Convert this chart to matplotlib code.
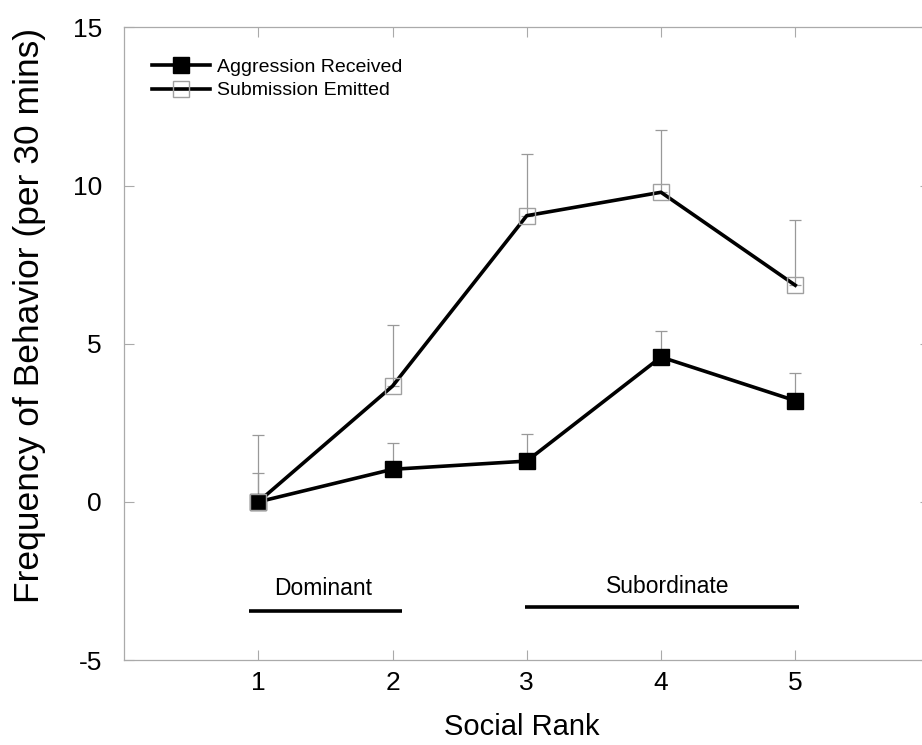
import matplotlib
matplotlib.use("Agg")
import matplotlib.pyplot as plt

plt.rcParams['font.family'] = ['Liberation Sans', 'DejaVu Sans']
plt.rcParams['axes.unicode_minus'] = False

rank = [1, 2, 3, 4, 5]
aggression = [0.0, 1.03, 1.29, 4.58, 3.2]
aggression_err = [0.9, 0.84, 0.85, 0.83, 0.86]
submission = [0.0, 3.66, 9.05, 9.79, 6.85]
submission_err = [2.1, 1.92, 1.95, 1.98, 2.05]

groups = ['Dominant', 'Subordinate']
group_start = [0.93, 2.99]
group_end = [2.07, 5.03]
group_line_y = [-3.46, -3.33]
group_text_y = [-2.75, -2.68]
group_text_x = [1.48, 4.05]

fig = plt.figure(figsize=(9.22, 7.45), dpi=100)
ax = fig.add_axes([124 / 922, 85 / 745, 805.5 / 922, 632.5 / 745])

grey = '#999999'
zeros = [0] * len(rank)

# error bars (upper only)
ax.errorbar(rank, aggression, yerr=[zeros, aggression_err], fmt='none',
            ecolor=grey, elinewidth=0.9, capsize=4, capthick=0.9, zorder=1)
ax.errorbar(rank, submission, yerr=[zeros, submission_err], fmt='none',
            ecolor=grey, elinewidth=0.9, capsize=4, capthick=0.9, zorder=1)

ax.plot(rank, aggression, color='black', lw=2.6, marker='s', ms=11.5,
        mfc='black', mec='black', label='Aggression Received', zorder=3)
ax.plot(rank, submission, color='black', lw=2.6, marker='s', ms=11.5,
        mfc='none', mec='#a0a0a0', mew=1.0, label='Submission Emitted',
        zorder=3)

for name, x0, x1, ly, tx, ty in zip(groups, group_start, group_end,
                                    group_line_y, group_text_x, group_text_y):
    ax.plot([x0, x1], [ly, ly], color='black', lw=2.6, solid_capstyle='butt')
    ax.text(tx, ty, name, ha='center', va='center', fontsize=16.5)

ax.set_xlim(0, 6)
ax.set_ylim(-5, 15)
ax.set_xticks(rank)
ax.set_yticks([-5, 0, 5, 10, 15])
ax.tick_params(direction='in', length=7, width=0.8, color='#aaaaaa',
               labelsize=19, top=True, right=True)
ax.tick_params(axis='y', pad=16)
ax.tick_params(axis='x', pad=8)
for s in ax.spines.values():
    s.set_color('#aaaaaa')
    s.set_linewidth(0.9)

ax.set_xlabel('Social Rank', fontsize=21)
ax.set_ylabel('Frequency of Behavior (per 30 mins)', fontsize=25.5)
ax.xaxis.set_label_coords(0.494, -0.084)
ax.yaxis.set_label_coords(-0.097, 0.545)

ax.legend(loc='upper left', bbox_to_anchor=(0.025, 0.964), frameon=False,
          fontsize=14, handlelength=3.0, handletextpad=0.35,
          labelspacing=0.32, borderaxespad=0)

fig.savefig('out.png', dpi=100)
